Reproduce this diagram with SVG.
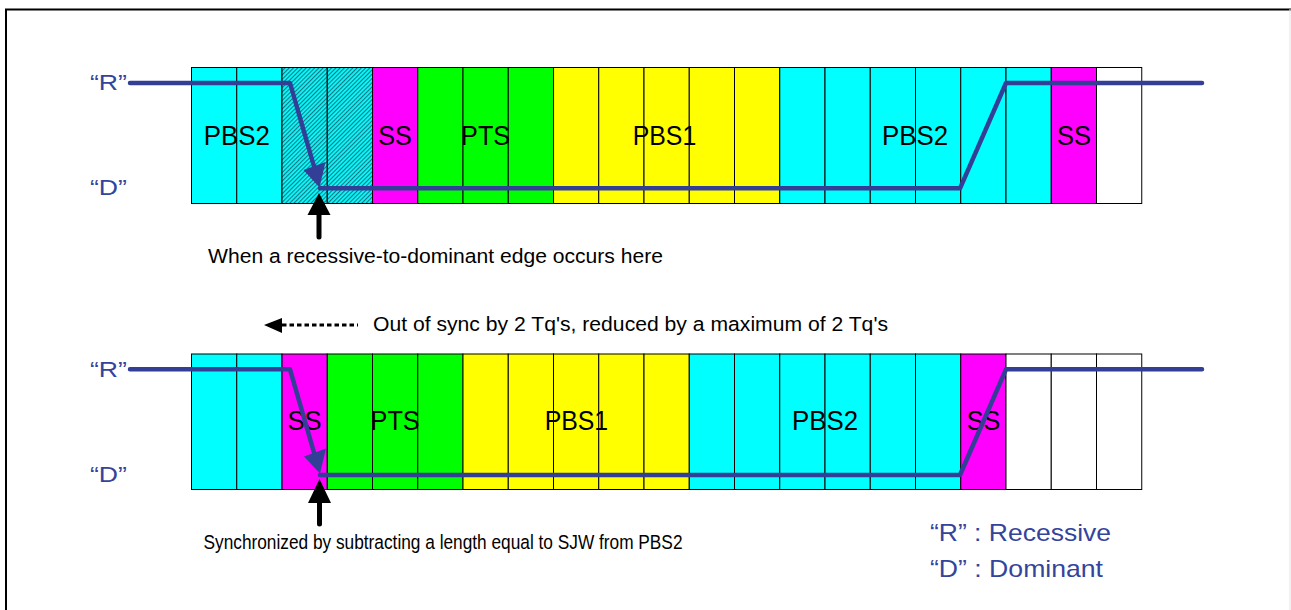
<svg xmlns="http://www.w3.org/2000/svg" width="1291" height="610" viewBox="0 0 1291 610">
<style>
.c{stroke:#000;stroke-width:1}
.cy{fill:#00FFFF}.mg{fill:#FF00FF}.gr{fill:#00FF00}.ye{fill:#FFFF00}.wh{fill:#FFFFFF}.ht{fill:url(#hatch)}
.lbl{font-family:"Liberation Sans",Arial,sans-serif;font-size:28px;fill:#000;text-anchor:middle}
.blu{font-family:"Liberation Sans",Arial,sans-serif;font-size:22px;fill:#34449C}
.leg{font-family:"Liberation Sans",Arial,sans-serif;font-size:24px;fill:#34449C}
.txt{font-family:"Liberation Sans",Arial,sans-serif;font-size:20.5px;fill:#000}
.sig{fill:none;stroke:#333F96;stroke-width:4.5;stroke-linecap:round;stroke-linejoin:round}
</style>
<defs>
<pattern id="hatch" width="3" height="3" patternUnits="userSpaceOnUse" patternTransform="rotate(45)">
<rect width="3" height="3" fill="#00FFFF"/>
<line x1="0.5" y1="0" x2="0.5" y2="3" stroke="#1E6E7E" stroke-width="1.2"/>
</pattern>
</defs>
<rect width="1291" height="610" fill="#fff"/>
<path d="M6,610 V9.5 H1291" fill="none" stroke="#000" stroke-width="2"/>
<line x1="1290" y1="9" x2="1290" y2="610" stroke="#e4e4e4" stroke-width="1"/>

<g id="row-top">
<rect class="c cy" x="191.5" y="67.5" width="45.25" height="136"/>
<rect class="c cy" x="236.75" y="67.5" width="45.25" height="136"/>
<rect class="c ht" x="282" y="67.5" width="45.25" height="136"/>
<rect class="c ht" x="327.25" y="67.5" width="45.25" height="136"/>
<rect class="c mg" x="372.5" y="67.5" width="45.25" height="136"/>
<rect class="c gr" x="417.75" y="67.5" width="45.25" height="136"/>
<rect class="c gr" x="463" y="67.5" width="45.25" height="136"/>
<rect class="c gr" x="508.25" y="67.5" width="45.25" height="136"/>
<rect class="c ye" x="553.5" y="67.5" width="45.25" height="136"/>
<rect class="c ye" x="598.75" y="67.5" width="45.25" height="136"/>
<rect class="c ye" x="644" y="67.5" width="45.25" height="136"/>
<rect class="c ye" x="689.25" y="67.5" width="45.25" height="136"/>
<rect class="c ye" x="734.5" y="67.5" width="45.25" height="136"/>
<rect class="c cy" x="779.75" y="67.5" width="45.25" height="136"/>
<rect class="c cy" x="825" y="67.5" width="45.25" height="136"/>
<rect class="c cy" x="870.25" y="67.5" width="45.25" height="136"/>
<rect class="c cy" x="915.5" y="67.5" width="45.25" height="136"/>
<rect class="c cy" x="960.75" y="67.5" width="45.25" height="136"/>
<rect class="c cy" x="1006" y="67.5" width="45.25" height="136"/>
<rect class="c mg" x="1051.25" y="67.5" width="45.25" height="136"/>
<rect class="c wh" x="1096.5" y="67.5" width="45.25" height="136"/>
<text class="lbl" x="236.75" y="144.5" textLength="66" lengthAdjust="spacingAndGlyphs">PBS2</text>
<text class="lbl" x="395.1" y="144.5" textLength="33.5" lengthAdjust="spacingAndGlyphs">SS</text>
<text class="lbl" x="485.6" y="144.5" textLength="49" lengthAdjust="spacingAndGlyphs">PTS</text>
<text class="lbl" x="664.5" y="144.5" textLength="63.5" lengthAdjust="spacingAndGlyphs">PBS1</text>
<text class="lbl" x="915" y="144.5" textLength="66" lengthAdjust="spacingAndGlyphs">PBS2</text>
<text class="lbl" x="1073.9" y="144.5" textLength="34" lengthAdjust="spacingAndGlyphs">SS</text>
</g>

<g id="row-bottom">
<rect class="c cy" x="191.5" y="354" width="45.25" height="135.5"/>
<rect class="c cy" x="236.75" y="354" width="45.25" height="135.5"/>
<rect class="c mg" x="282" y="354" width="45.25" height="135.5"/>
<rect class="c gr" x="327.25" y="354" width="45.25" height="135.5"/>
<rect class="c gr" x="372.5" y="354" width="45.25" height="135.5"/>
<rect class="c gr" x="417.75" y="354" width="45.25" height="135.5"/>
<rect class="c ye" x="463" y="354" width="45.25" height="135.5"/>
<rect class="c ye" x="508.25" y="354" width="45.25" height="135.5"/>
<rect class="c ye" x="553.5" y="354" width="45.25" height="135.5"/>
<rect class="c ye" x="598.75" y="354" width="45.25" height="135.5"/>
<rect class="c ye" x="644" y="354" width="45.25" height="135.5"/>
<rect class="c cy" x="689.25" y="354" width="45.25" height="135.5"/>
<rect class="c cy" x="734.5" y="354" width="45.25" height="135.5"/>
<rect class="c cy" x="779.75" y="354" width="45.25" height="135.5"/>
<rect class="c cy" x="825" y="354" width="45.25" height="135.5"/>
<rect class="c cy" x="870.25" y="354" width="45.25" height="135.5"/>
<rect class="c cy" x="915.5" y="354" width="45.25" height="135.5"/>
<rect class="c mg" x="960.75" y="354" width="45.25" height="135.5"/>
<rect class="c wh" x="1006" y="354" width="45.25" height="135.5"/>
<rect class="c wh" x="1051.25" y="354" width="45.25" height="135.5"/>
<rect class="c wh" x="1096.5" y="354" width="45.25" height="135.5"/>
<text class="lbl" x="304.6" y="429.5" textLength="34" lengthAdjust="spacingAndGlyphs">SS</text>
<text class="lbl" x="395.1" y="429.5" textLength="49" lengthAdjust="spacingAndGlyphs">PTS</text>
<text class="lbl" x="576.4" y="429.5" textLength="63.5" lengthAdjust="spacingAndGlyphs">PBS1</text>
<text class="lbl" x="825" y="429.5" textLength="66" lengthAdjust="spacingAndGlyphs">PBS2</text>
<text class="lbl" x="983.4" y="429.5" textLength="33.5" lengthAdjust="spacingAndGlyphs">SS</text>
</g>

<g id="level-labels">
<text class="blu" x="90" y="90" textLength="37" lengthAdjust="spacingAndGlyphs">“R”</text>
<text class="blu" x="90" y="195" textLength="37" lengthAdjust="spacingAndGlyphs">“D”</text>
<text class="blu" x="90" y="376.5" textLength="37" lengthAdjust="spacingAndGlyphs">“R”</text>
<text class="blu" x="90" y="481.5" textLength="37" lengthAdjust="spacingAndGlyphs">“D”</text>
</g>

<g id="connectors">
<path class="sig" d="M130,83 L290,83 L315,170"/>
<polygon points="319.5,187.5 303.5,170 325.5,162" fill="#333F96"/>
<path class="sig" d="M320,188.3 L960,188.3 L1006,83 L1202,83"/>
<path class="sig" d="M130,369.3 L290,369.3 L315,456"/>
<polygon points="320,473.5 304,456.5 326,448.5" fill="#333F96"/>
<path class="sig" d="M320,475 L960,475 L1006,369.3 L1202,369.3"/>
<polygon points="319,193 307.5,215 330.5,215" fill="#000"/>
<line x1="319" y1="212" x2="319" y2="237" stroke="#000" stroke-width="5" stroke-linecap="round"/>
<polygon points="319.5,479 308,503 331,503" fill="#000"/>
<line x1="319.5" y1="500" x2="319.5" y2="524" stroke="#000" stroke-width="5" stroke-linecap="round"/>
<polygon points="264,325 282,318 282,333" fill="#000"/>
<line x1="282" y1="325" x2="358" y2="325" stroke="#000" stroke-width="3" stroke-dasharray="4.5 3"/>
</g>

<g id="notes">
<text class="txt" x="208" y="263" textLength="455" lengthAdjust="spacingAndGlyphs">When a recessive-to-dominant edge occurs here</text>
<text class="txt" x="373" y="330.5" textLength="515" lengthAdjust="spacingAndGlyphs">Out of sync by 2 Tq's, reduced by a maximum of 2 Tq's</text>
<text class="txt" x="203.5" y="549" textLength="479" lengthAdjust="spacingAndGlyphs">Synchronized by subtracting a length equal to SJW from PBS2</text>
</g>

<g id="legend">
<text class="leg" x="930" y="541" textLength="181" lengthAdjust="spacingAndGlyphs">“R” : Recessive</text>
<text class="leg" x="930" y="577.3" textLength="173" lengthAdjust="spacingAndGlyphs">“D” : Dominant</text>
</g>
</svg>
